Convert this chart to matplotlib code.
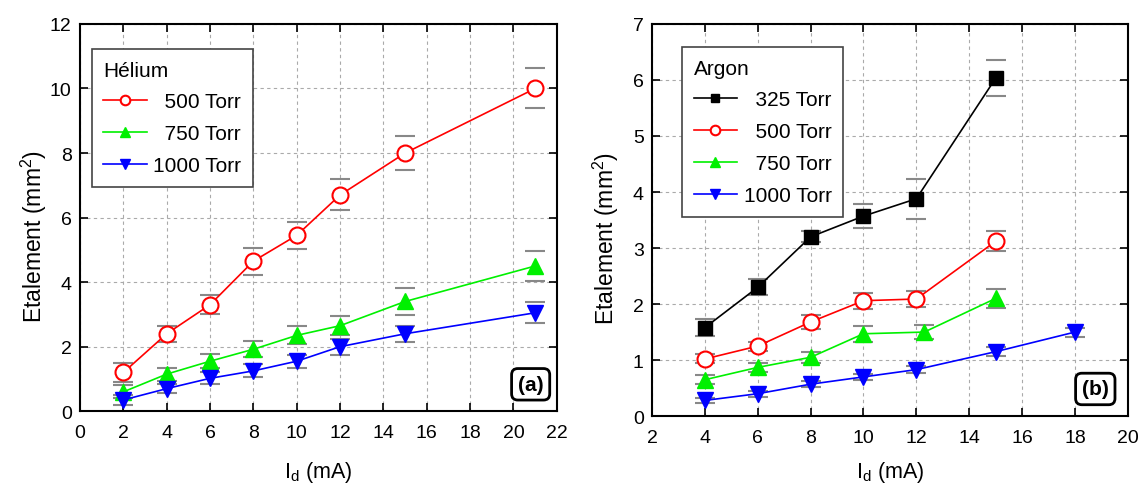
import matplotlib
matplotlib.use('Agg')
import matplotlib.pyplot as plt

# Données
# (a) Hélium
he_x = [2, 4, 6, 8, 10, 12, 15, 21]
he_500 = [1.2, 2.4, 3.3, 4.65, 5.45, 6.7, 8.0, 10.0]
he_500_err = [0.3, 0.25, 0.3, 0.42, 0.42, 0.48, 0.52, 0.62]
he_750 = [0.6, 1.15, 1.55, 1.92, 2.35, 2.65, 3.4, 4.5]
he_750_err = [0.2, 0.2, 0.22, 0.25, 0.28, 0.3, 0.42, 0.48]
he_1000 = [0.35, 0.7, 1.02, 1.25, 1.55, 2.0, 2.4, 3.05]
he_1000_err = [0.15, 0.15, 0.18, 0.2, 0.2, 0.25, 0.25, 0.32]

# (b) Argon
ar_325_x = [4, 6, 8, 10, 12, 15]
ar_325 = [1.58, 2.3, 3.2, 3.57, 3.88, 6.03]
ar_325_err = [0.15, 0.14, 0.1, 0.22, 0.36, 0.32]
ar_500_x = [4, 6, 8, 10, 12, 15]
ar_500 = [1.02, 1.25, 1.68, 2.06, 2.09, 3.12]
ar_500_err = [0.08, 0.08, 0.12, 0.14, 0.14, 0.18]
ar_750_x = [4, 6, 8, 10, 12.3, 15]
ar_750 = [0.65, 0.87, 1.05, 1.47, 1.5, 2.1]
ar_750_err = [0.08, 0.08, 0.1, 0.14, 0.12, 0.17]
ar_1000_x = [4, 6, 8, 10, 12, 15, 18]
ar_1000 = [0.28, 0.4, 0.57, 0.7, 0.83, 1.15, 1.5]
ar_1000_err = [0.05, 0.05, 0.05, 0.06, 0.06, 0.08, 0.08]

plt.rcParams['font.family'] = ['Liberation Sans', 'DejaVu Sans']
plt.rcParams['mathtext.default'] = 'regular'

fig = plt.figure(figsize=(11.38, 4.89), dpi=100)
ax1 = fig.add_axes([0.0703, 0.157, 0.419, 0.792])
ax2 = fig.add_axes([0.573, 0.147, 0.418, 0.802])

styles = {
    'noir': dict(color='black', marker='s', mfc='black', mec='black', ms=10),
    'rouge': dict(color='red', marker='o', mfc='white', mec='red', ms=11.5, mew=1.5),
    'vert': dict(color='#00f000', marker='^', mfc='#00f000', mec='#00f000', ms=12),
    'bleu': dict(color='blue', marker='v', mfc='blue', mec='blue', ms=12),
}


def tracer(ax, x, y, err, style, label):
    ax.errorbar(x, y, yerr=err, fmt='none', ecolor='#888888', elinewidth=0,
                capsize=7.5, capthick=1.5, zorder=2)
    ax.plot(x, y, lw=1.2, label=label, zorder=3, **styles[style])


tracer(ax1, he_x, he_500, he_500_err, 'rouge', '  500 Torr')
tracer(ax1, he_x, he_750, he_750_err, 'vert', '  750 Torr')
tracer(ax1, he_x, he_1000, he_1000_err, 'bleu', '1000 Torr')

tracer(ax2, ar_325_x, ar_325, ar_325_err, 'noir', '  325 Torr')
tracer(ax2, ar_500_x, ar_500, ar_500_err, 'rouge', '  500 Torr')
tracer(ax2, ar_750_x, ar_750, ar_750_err, 'vert', '  750 Torr')
tracer(ax2, ar_1000_x, ar_1000, ar_1000_err, 'bleu', '1000 Torr')

ax1.set_xlim(0, 22)
ax1.set_ylim(0, 12)
ax1.set_xticks(range(0, 23, 2))
ax1.set_yticks(range(0, 13, 2))
ax2.set_xlim(2, 20)
ax2.set_ylim(0, 7)
ax2.set_xticks(range(2, 21, 2))
ax2.set_yticks(range(0, 8))

panneaux = [(ax1, 'Hélium', '(a)', (0.025, 0.935), 0.972, -0.124),
            (ax2, 'Argon', '(b)', (0.063, 0.941), 0.96, -0.11)]
for ax, titre, lettre, coin, xlettre, yxlabel in panneaux:
    ax.grid(True, ls=(0, (3, 3)), color='#aaaaaa', lw=0.8)
    ax.set_axisbelow(True)
    ax.tick_params(direction='in', top=True, right=True, length=6, width=1.2,
                   labelsize=14)
    ax.tick_params(axis='x', pad=9)
    ax.tick_params(axis='y', pad=6)
    for s in ax.spines.values():
        s.set_linewidth(1.5)
    ax.set_xlabel('I$_d$ (mA)', fontsize=15.5)
    ax.xaxis.set_label_coords(0.5, yxlabel)
    ax.set_ylabel('Etalement (mm$^2$)', fontsize=16.5)
    ax.yaxis.set_label_coords(-0.065, 0.455)
    leg = ax.legend(title=titre, loc='upper left', bbox_to_anchor=coin,
                    borderaxespad=0, fontsize=15, title_fontsize=15,
                    handlelength=2.1, handletextpad=0.3,
                    fancybox=False, edgecolor='#444444', framealpha=1,
                    borderpad=0.55, labelspacing=0.62, numpoints=1,
                    markerscale=0.6)
    leg._legend_box.align = 'left'
    leg.get_frame().set_linewidth(1.2)
    ax.text(xlettre, 0.045, lettre, transform=ax.transAxes, ha='right',
            va='bottom', fontsize=15, fontweight='bold',
            bbox=dict(boxstyle='round,pad=0.3,rounding_size=0.3', fc='white',
                      ec='black', lw=2))

plt.savefig('out.png', dpi=100)
